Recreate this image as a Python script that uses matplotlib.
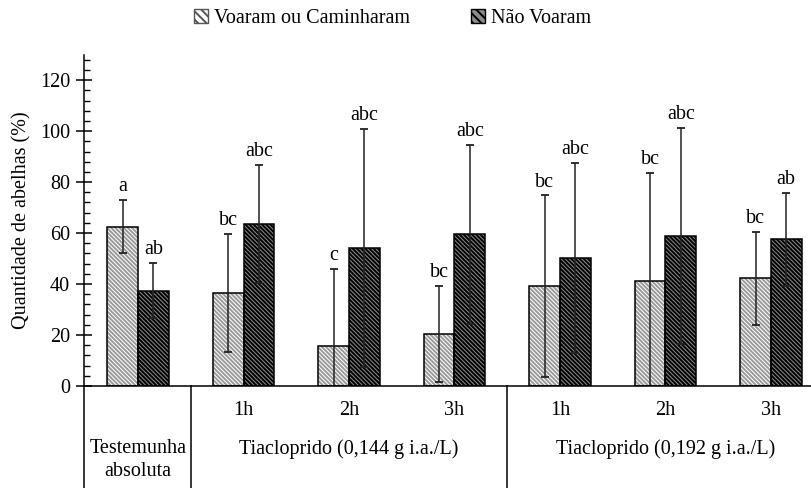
import numpy as np
import matplotlib
matplotlib.use("Agg")
import matplotlib.pyplot as plt
from matplotlib.patches import Patch
from matplotlib.ticker import MultipleLocator

plt.rcParams['font.family'] = ['Liberation Serif', 'DejaVu Serif']
plt.rcParams['hatch.linewidth'] = 1.4

hours = ['', '1h', '2h', '3h', '1h', '2h', '3h']
voaram = [62.5, 36.5, 15.8, 20.4, 39.2, 41.2, 42.2]
voaram_err = [10.5, 23.3, 30.2, 19.0, 35.6, 42.4, 18.2]
nao_voaram = [37.4, 63.5, 54.2, 59.5, 50.3, 58.8, 57.5]
nao_voaram_err = [10.9, 23.2, 46.8, 35.1, 37.2, 42.5, 18.1]
letters_voaram = ['a', 'bc', 'c', 'bc', 'bc', 'bc', 'bc']
letters_nao = ['ab', 'abc', 'abc', 'abc', 'abc', 'abc', 'ab']

fs = 14.5
fig = plt.figure(figsize=(8.11, 4.88), dpi=100)
ax = fig.add_axes([0.1036, 0.209, 0.8964, 0.679])

x = np.arange(len(hours))
w = 0.29
light_hatch = '#9a9a9a'
dark_face = '#8c8c8c'
hatch = '\\' * 8

# hatched fills, then black outlines on top
ax.bar(x - w / 2, voaram, w, color='white', edgecolor=light_hatch, hatch=hatch, linewidth=0)
ax.bar(x + w / 2, nao_voaram, w, color=dark_face, edgecolor='black', hatch=hatch, linewidth=0)
ax.bar(x - w / 2, voaram, w, fill=False, edgecolor='black', linewidth=1.1)
ax.bar(x + w / 2, nao_voaram, w, fill=False, edgecolor='black', linewidth=1.1)

ax.errorbar(x - w / 2, voaram, yerr=voaram_err, fmt='none', ecolor='#222222',
            elinewidth=1.1, capsize=3, capthick=1.3)
ax.errorbar(x + w / 2, nao_voaram, yerr=nao_voaram_err, fmt='none', ecolor='#222222',
            elinewidth=1.1, capsize=3, capthick=1.3)

for xi, v, e, t in zip(x - w / 2, voaram, voaram_err, letters_voaram):
    ax.text(xi, v + e + 1.5, t, ha='center', va='bottom', fontsize=fs)
for xi, v, e, t in zip(x + w / 2, nao_voaram, nao_voaram_err, letters_nao):
    ax.text(xi, v + e + 1.5, t, ha='center', va='bottom', fontsize=fs)

xmin, xmax = -0.512, 6.38
ax.set_xlim(xmin, xmax)
ax.set_ylim(0, 130)
ax.yaxis.set_minor_locator(MultipleLocator(4))
ax.set_yticks(np.arange(0, 121, 20))
ax.tick_params(axis='y', which='major', direction='inout', length=12, width=1.1,
               labelsize=fs, pad=4)
ax.tick_params(axis='y', which='minor', direction='in', length=4.5, width=1.0)
ax.set_xticks([])
for s in ['top', 'right']:
    ax.spines[s].set_visible(False)
ax.spines['left'].set_linewidth(1.1)
ax.spines['bottom'].set_linewidth(1.1)
ax.set_ylabel('Quantidade de abelhas (%)', fontsize=fs, labelpad=6)

# category table below the axis
trans = ax.get_xaxis_transform()
for xd in [xmin, 0.5, 3.5]:
    ax.plot([xd, xd], [0, -0.35], transform=trans, color='black', lw=1.1, clip_on=False)
for xi, h in zip(x, hours):
    ax.text(xi, -9.8, h, ha='center', va='center', fontsize=fs, clip_on=False)
ax.text(0, -24.7, 'Testemunha', ha='center', va='center', fontsize=fs)
ax.text(0, -33.7, 'absoluta', ha='center', va='center', fontsize=fs)
ax.text(2, -24.7, 'Tiacloprido (0,144 g i.a./L)', ha='center', va='center', fontsize=fs)
ax.text(5, -24.7, 'Tiacloprido (0,192 g i.a./L)', ha='center', va='center', fontsize=fs)

handles = [Patch(facecolor='white', edgecolor='#555555', hatch='\\\\\\\\', label='Voaram ou Caminharam'),
           Patch(facecolor=dark_face, edgecolor='black', hatch='\\\\\\\\', label='Não Voaram')]
fig.legend(handles=handles, loc='center', bbox_to_anchor=(0.484, 0.963), ncol=2, frameon=False,
           fontsize=fs, handlelength=0.7, handleheight=0.7, handletextpad=0.3, columnspacing=3.0)

fig.savefig('out.png', dpi=100)
